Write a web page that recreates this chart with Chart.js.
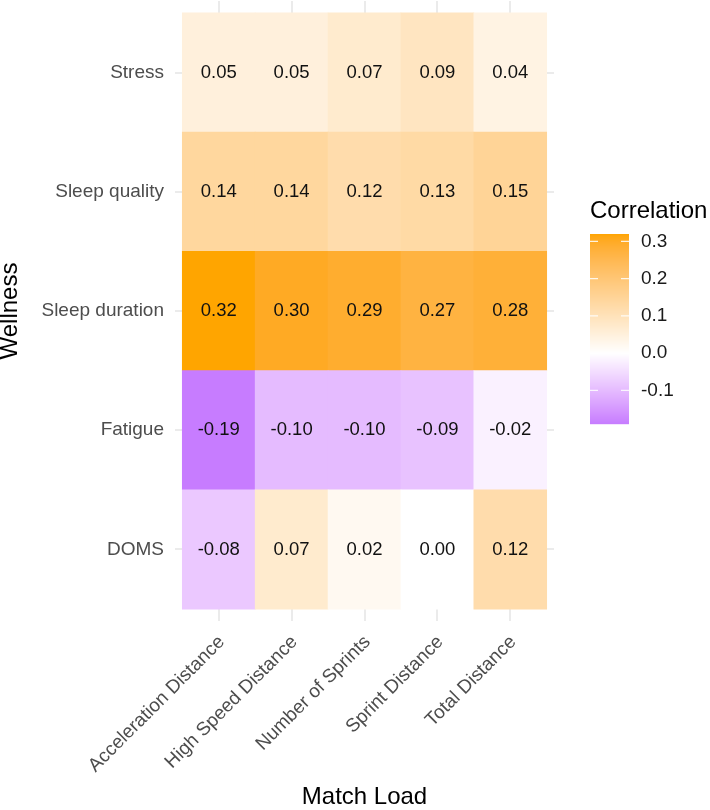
<!DOCTYPE html>
<html><head><meta charset="utf-8">
<script src="https://cdn.jsdelivr.net/npm/chart.js@4.4.1/dist/chart.umd.min.js"></script>
<style>html,body{margin:0;padding:0;background:#fff;} #wrap{width:710px;height:810px;}</style>
</head><body><div id="wrap"><canvas id="c" width="710" height="810"></canvas></div>
<script>
// ---- data ----
const matchLoad = ["Acceleration Distance","High Speed Distance","Number of Sprints","Sprint Distance","Total Distance"];
const wellness = ["Stress","Sleep quality","Sleep duration","Fatigue","DOMS"]; // top to bottom
const stress        = [0.05, 0.05, 0.07, 0.09, 0.04];
const sleepQuality  = [0.14, 0.14, 0.12, 0.13, 0.15];
const sleepDuration = [0.32, 0.30, 0.29, 0.27, 0.28];
const fatigue       = [-0.19, -0.10, -0.10, -0.09, -0.02];
const doms          = [-0.08, 0.07, 0.02, 0.00, 0.12];
const legendBreaks  = [-0.1, 0.0, 0.1, 0.2, 0.3];
const rowValues = [stress, sleepQuality, sleepDuration, fatigue, doms];

// ---- colour scale (Lab interpolation, white midpoint) ----
const HIGH = '#FFA500', MID = '#FFFFFF', LOW = '#C77CFF';
function hex2rgb(h){h=h.replace('#','');return [0,2,4].map(i=>parseInt(h.substr(i,2),16)/255);}
function lin(c){return c<=0.04045?c/12.92:Math.pow((c+0.055)/1.055,2.4);}
function delin(c){c=Math.max(0,Math.min(1,c));return c<=0.0031308?12.92*c:1.055*Math.pow(c,1/2.4)-0.055;}
function rgb2lab(rgb){
  const [r,g,b]=rgb.map(lin);
  let X=(0.4124*r+0.3576*g+0.1805*b)/0.95047, Y=(0.2126*r+0.7152*g+0.0722*b), Z=(0.0193*r+0.1192*g+0.9505*b)/1.08883;
  const f=t=>t>0.008856?Math.cbrt(t):7.787*t+16/116;
  const fx=f(X),fy=f(Y),fz=f(Z);
  return [116*fy-16,500*(fx-fy),200*(fy-fz)];
}
function lab2hex(lab){
  const [L,a,b]=lab; const fy=(L+16)/116, fx=fy+a/500, fz=fy-b/200;
  const fi=t=>{const t3=t*t*t;return t3>0.008856?t3:(t-16/116)/7.787;};
  const X=fi(fx)*0.95047,Y=fi(fy),Z=fi(fz)*1.08883;
  const r=3.2406*X-1.5372*Y-0.4986*Z, g=-0.9689*X+1.8758*Y+0.0415*Z, bb=0.0557*X-0.2040*Y+1.0570*Z;
  return 'rgb('+[r,g,bb].map(c=>Math.round(delin(c)*255)).join(',')+')';
}
const labH=rgb2lab(hex2rgb(HIGH)), labM=rgb2lab(hex2rgb(MID)), labL=rgb2lab(hex2rgb(LOW));
const allVals=rowValues.flat();
const vMax=Math.max(...allVals), vMin=Math.min(...allVals);
function colorFor(v){
  let t, end;
  if(v>=0){t=Math.min(1,v/vMax);end=labH;} else {t=Math.min(1,v/vMin);end=labL;}
  return lab2hex(labM.map((m,i)=>m+(end[i]-m)*t));
}

// ---- cells built from arrays ----
const cells=[];
rowValues.forEach((row,r)=>{
  const yv=wellness.length-r;
  row.forEach((v,c)=>cells.push({x:c+1,y:[yv-0.5,yv+0.5],v:v}));
});

const FONT="'Liberation Sans', Arial, Helvetica, sans-serif";
Chart.defaults.font.family=FONT;

const overlay={
  id:'overlay',
  afterDatasetsDraw(chart){
    const ctx=chart.ctx, xs=chart.scales.x, ys=chart.scales.y;
    ctx.save();
    ctx.fillStyle='#111111';
    ctx.font='18.5px '+FONT;
    ctx.textAlign='center'; ctx.textBaseline='middle';
    cells.forEach(d=>{
      ctx.fillText(d.v.toFixed(2), xs.getPixelForValue(d.x), ys.getPixelForValue((d.y[0]+d.y[1])/2));
    });
    ctx.restore();
  },
  afterDraw(chart){
    const ctx=chart.ctx;
    const bx=590, by=234, bw=39, bh=190;
    ctx.save();
    ctx.fillStyle='#000'; ctx.font='24px '+FONT; ctx.textAlign='left'; ctx.textBaseline='alphabetic';
    ctx.fillText('Correlation', 590, 218);
    const pxOf=v=>by+(vMax-v)/(vMax-vMin)*bh;
    for(let i=0;i<bh;i++){
      const v=vMax-(i+0.5)/bh*(vMax-vMin);
      ctx.fillStyle=colorFor(v);
      ctx.fillRect(bx,by+i,bw,1.2);
    }
    ctx.strokeStyle='rgba(255,255,255,0.85)'; ctx.lineWidth=1.2;
    ctx.fillStyle='#1a1a1a'; ctx.font='19px '+FONT; ctx.textBaseline='middle';
    legendBreaks.forEach(b=>{
      const y=pxOf(b);
      ctx.beginPath(); ctx.moveTo(bx,y); ctx.lineTo(bx+8,y); ctx.moveTo(bx+bw-8,y); ctx.lineTo(bx+bw,y); ctx.stroke();
      ctx.fillText(b.toFixed(1), 641, y);
    });
    ctx.restore();
  }
};

function noPad(s){s.paddingTop=0;s.paddingBottom=0;s.paddingLeft=0;s.paddingRight=0;}

new Chart(document.getElementById('c'),{
  type:'bar',
  data:{datasets:[{
    data:cells,
    backgroundColor:ctx=>colorFor(ctx.raw.v),
    borderWidth:0,
    barPercentage:1.0,
    categoryPercentage:1.0
  }]},
  options:{
    responsive:false,
    animation:false,
    devicePixelRatio:1,
    layout:{padding:{top:1,right:156,left:0,bottom:0}},
    plugins:{legend:{display:false},tooltip:{enabled:false}},
    scales:{
      x:{
        type:'linear', min:0.4, max:5.6, offset:false,
        afterBuildTicks(s){s.ticks=matchLoad.map((_,i)=>({value:i+1}));},
        afterFit(s){s.height=189;noPad(s);},
        ticks:{callback:v=>matchLoad[Math.round(v)-1], autoSkip:false, minRotation:45, maxRotation:45,
               color:'#4D4D4D', font:{size:19}, padding:10, labelOffset:3},
        grid:{color:'#EBEBEB', lineWidth:2, drawTicks:false, offset:false},
        border:{display:false},
        title:{display:true, text:'Match Load', color:'#000', font:{size:24, lineHeight:0.875}, padding:{top:0,bottom:2}}
      },
      y:{
        type:'linear', min:0.4, max:5.6, offset:false,
        afterBuildTicks(s){s.ticks=wellness.map((_,i)=>({value:i+1}));},
        afterFit(s){s.width=175;noPad(s);},
        ticks:{callback:v=>wellness[wellness.length-Math.round(v)], color:'#4D4D4D', font:{size:19}, padding:11},
        grid:{color:'#EBEBEB', lineWidth:2, drawTicks:false, offset:false},
        border:{display:false},
        title:{display:true, text:'Wellness', color:'#000', font:{size:24, lineHeight:0.875}, padding:{top:0,bottom:0}}
      }
    }
  },
  plugins:[overlay]
});
</script>
</body></html>
